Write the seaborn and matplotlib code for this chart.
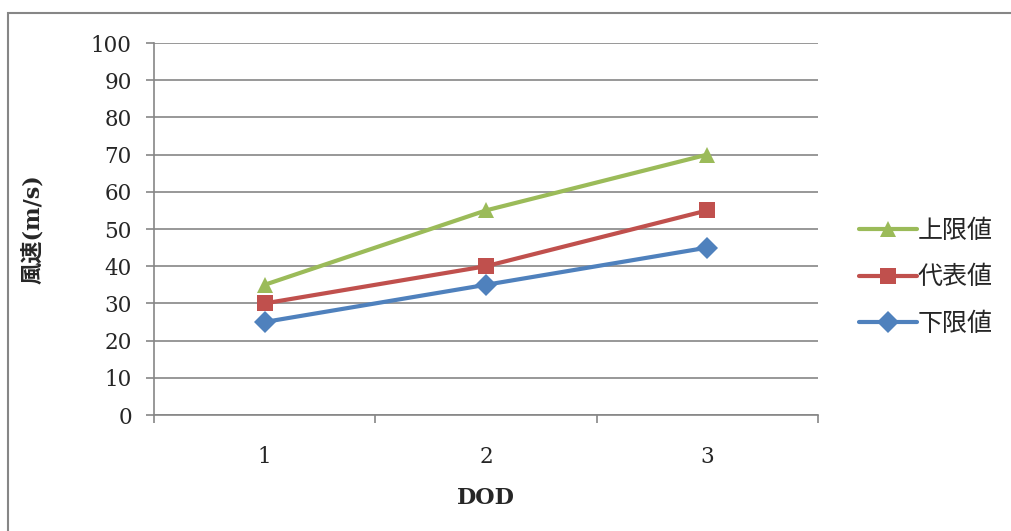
import pandas as pd
import seaborn as sns
import matplotlib.pyplot as plt
from matplotlib.patches import Rectangle

# data
dod = ['1', '2', '3']
series_names = ['下限値', '代表値', '上限値']
lower = [25, 35, 45]
typical = [30, 40, 55]
upper = [35, 55, 70]

df = pd.DataFrame({
    'DOD': dod * 3,
    'speed': lower + typical + upper,
    'series': [series_names[0]] * 3 + [series_names[1]] * 3 + [series_names[2]] * 3,
})

sns.set_style('white')
plt.rcParams['font.family'] = ['DejaVu Serif', 'Noto Sans CJK JP']

fig = plt.figure(figsize=(10.11, 5.31), dpi=100)
ax = fig.add_axes([154 / 1011, 1 - 415 / 531, (818 - 154) / 1011, (415 - 43) / 531])

palette = {'下限値': '#4F81BD', '代表値': '#C0504D', '上限値': '#9BBB59'}
markers = {'下限値': 'D', '代表値': 's', '上限値': '^'}
sns.lineplot(data=df, x='DOD', y='speed', hue='series', style='series',
             palette=palette, markers=markers, dashes=False, linewidth=3,
             markersize=11, markeredgewidth=0, ax=ax, sort=False)

grey = '#868686'
ax.set_xlim(-0.5, 2.5)
ax.set_ylim(0, 100)
ax.set_yticks(range(0, 101, 10))
ax.yaxis.grid(True, color=grey, linewidth=1.2)
ax.set_axisbelow(True)
ax.set_xticks([-0.5, 0.5, 1.5, 2.5])
ax.set_xticklabels([])
ax.set_xticks([0, 1, 2], minor=True)
ax.set_xticklabels(dod, minor=True)
ax.tick_params(axis='x', which='major', direction='out', length=6, color=grey, width=1.2)
ax.tick_params(axis='x', which='minor', length=0, pad=22, labelsize=15.5)
ax.tick_params(axis='y', direction='out', length=6, color=grey, width=1.2, labelsize=15.5, pad=10)
ax.tick_params(left=True, bottom=True)
for side in ['top', 'right']:
    ax.spines[side].set_visible(False)
for side in ['left', 'bottom']:
    ax.spines[side].set_color(grey)
    ax.spines[side].set_linewidth(1.2)

ax.set_xlabel('DOD', fontsize=16, fontweight='bold', labelpad=14)
ax.set_ylabel('風速(m/s)', fontsize=16, fontweight='bold', labelpad=34)

handles, labels = ax.get_legend_handles_labels()
order = [labels.index(n) for n in ['上限値', '代表値', '下限値']]
ax.legend([handles[i] for i in order], [labels[i] for i in order],
          loc='center left', bbox_to_anchor=(1.043, 0.37), frameon=False,
          prop={'family': 'Noto Sans CJK JP', 'size': 18},
          handlelength=2.3, labelspacing=0.82, handletextpad=0.05, borderpad=0)

# outer chart border
fig.patches.append(Rectangle((8 / 1011, -0.05), 1.1, 1 - 13 / 531 + 0.05,
                             transform=fig.transFigure, fill=False,
                             edgecolor=grey, linewidth=1.5))

fig.savefig('out.png', dpi=100)
